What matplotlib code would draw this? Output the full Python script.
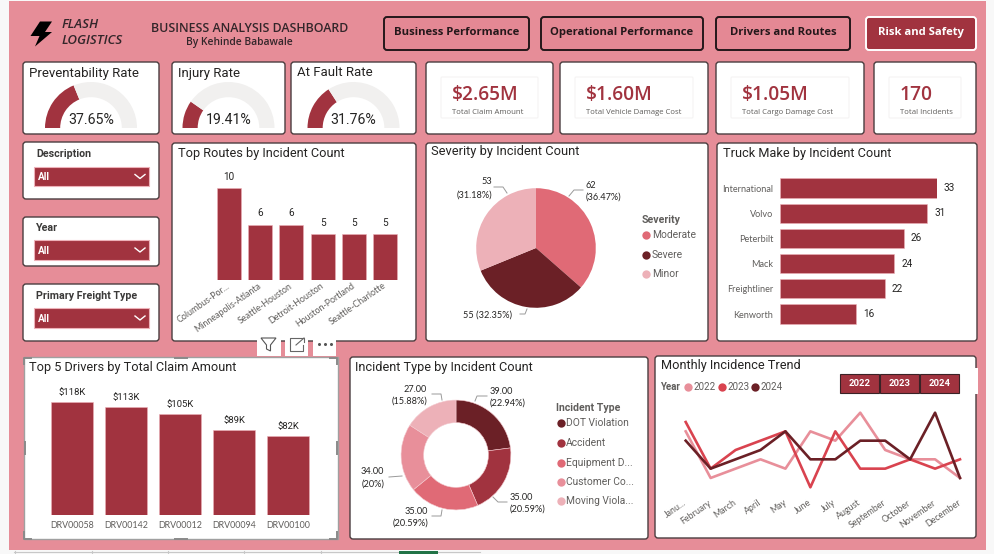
import matplotlib
matplotlib.use('Agg')
import matplotlib.pyplot as plt
from matplotlib.patches import FancyBboxPatch, Rectangle, Polygon

W, H = 995, 554

# data
gauge_names = ['Preventability Rate', 'Injury Rate', 'At Fault Rate']
gauge_values = [37.65, 19.41, 31.76]
kpi_values = ['$2.65M', '$1.60M', '$1.05M', '170']
kpi_labels = ['Total Claim Amount', 'Total Vehicle Damage Cost', 'Total Cargo Damage Cost', 'Total Incidents']
nav_labels = ['Business Performance', 'Operational Performance', 'Drivers and Routes', 'Risk and Safety']
slicer_labels = ['Description', 'Year', 'Primary Freight Type']

routes = ['Columbus-Por...', 'Minneapolis-Atlanta', 'Seattle-Houston', 'Detroit-Houston', 'Houston-Portland', 'Seattle-Charlotte']
route_counts = [10, 6, 6, 5, 5, 5]

severity = ['Moderate', 'Severe', 'Minor']
severity_counts = [62, 55, 53]

makes = ['International', 'Volvo', 'Peterbilt', 'Mack', 'Freightliner', 'Kenworth']
make_counts = [33, 31, 26, 24, 22, 16]

drivers = ['DRV00058', 'DRV00142', 'DRV00012', 'DRV00094', 'DRV00100']
driver_claims = [118, 113, 105, 89, 82]

incident_types = ['DOT Violation', 'Accident', 'Equipment D...', 'Customer Co...', 'Moving Viola...']
incident_counts = [39, 35, 35, 34, 27]

months = ['Janu...', 'February', 'March', 'April', 'May', 'June', 'July', 'August', 'September', 'October', 'November', 'December']
trend_2022 = [7, 2, 3, 4, 3, 7, 6, 9, 5, 4, 4, 2]
trend_2023 = [8, 3, 5, 6, 7, 1, 7, 3, 3, 4, 3, 4]
trend_2024 = [6, 3, 4, 5, 7, 4, 4, 6, 6, 4, 9, 2]
years = ['2022', '2023', '2024']

PINK = '#E68D98'
RED = '#A1333F'
MAROON = '#6B2026'
ROSE = '#E06A76'
LIGHT = '#EDB1B8'
MID = '#E88F9A'
GRAY = '#605E5C'
DARK = '#252423'

TITLE_FONT = 'Roboto'
BODY_FONT = 'Open Sans'
TICK_FONT = 'Lato'

plt.rcParams['font.family'] = BODY_FONT

fig = plt.figure(figsize=(W / 100, H / 100), dpi=100, facecolor='#F8F8F8')


def ax_px(x0, y0, x1, y1, z=2):
    ax = fig.add_axes([x0 / W, 1 - y1 / H, (x1 - x0) / W, (y1 - y0) / H], zorder=z)
    ax.patch.set_alpha(0)
    return ax


def layer(z):
    ax = ax_px(0, 0, W, H, z)
    ax.set_xlim(0, W)
    ax.set_ylim(H, 0)
    ax.axis('off')
    return ax


def box(ax, x0, y0, x1, y1, fc='white', ec='#4A3D3F', lw=1.0, r=3, z=1):
    ax.add_patch(FancyBboxPatch((x0, y0), x1 - x0, y1 - y0, boxstyle='round,pad=0,rounding_size=%s' % r,
                                fc=fc, ec=ec, lw=lw, zorder=z))


def bare(ax):
    for s in ax.spines.values():
        s.set_visible(False)


bg = layer(0)
fg = layer(5)

bg.add_patch(Rectangle((9, 1), 977, 549, fc=PINK, ec='none'))
# sheet tabs at the bottom edge of the screenshot
bg.plot([14, 480], [551.5, 551.5], color='#C8C8C8', lw=0.8)
for x in [15, 92, 168, 244, 321]:
    bg.plot([x, x], [551, 554], color='#C8C8C8', lw=0.8)
bg.add_patch(Rectangle((399, 551), 39, 3, fc='#217346', ec='none', zorder=3))

# header
fg.add_patch(Polygon([(40, 21.5), (52, 21.5), (45, 32), (52, 32), (35, 46.5), (39.5, 36), (30.5, 36)], fc='black', ec='none'))
fg.text(62, 24.5, 'FLASH', fontsize=9.5, style='italic', weight='semibold', color='#33262A', va='center')
fg.text(62, 41, 'LOGISTICS', fontsize=9.5, style='italic', weight='semibold', color='#33262A', va='center')
fg.text(250, 28, 'BUSINESS ANALYSIS DASHBOARD', fontsize=8.9, weight='semibold', color='#33262A', ha='center', va='center')
fg.text(239, 43, 'By Kehinde Babawale', fontsize=7.4, weight='semibold', color='#33262A', ha='center', va='center')

nav_x = [(384, 529), (541, 703), (716, 850), (866, 976)]
for i, (label, (x0, x1)) in enumerate(zip(nav_labels, nav_x)):
    active = i == 3
    box(bg, x0, 17, x1, 50, fc=RED if active else '#E48894', ec='white' if active else '#24171A', lw=1.4)
    fg.text((x0 + x1) / 2, 32.5, label, fontsize=8.15, weight='bold', color='white' if active else '#24171A',
            ha='center', va='center')

# gauges
gauge_panels = [(23, 159, 91), (172, 285, 228.5), (291, 416, 353.5)]
for name, value, (x0, x1, cx) in zip(gauge_names, gauge_values, gauge_panels):
    box(bg, x0, 62, x1, 134)
    fg.text(x0 + 6, 73, name, family=TITLE_FONT, fontsize=9.5, color=DARK, va='center')
    r = 46
    ax = ax_px(cx - r, 128 - r, cx + r, 128 + r)
    ax.pie([value, 100 - value, 100], radius=1, startangle=180, counterclock=False,
           colors=[RED, '#F1F0EF', 'none'], wedgeprops={'width': 0.33})
    ax.set_xlim(-1, 1)
    ax.set_ylim(-1, 1)
    fg.text(cx, 120, '%.2f%%' % value, family=TITLE_FONT, fontsize=10.2, color=DARK, ha='center', va='center')

# kpi cards
kpi_x = [(426, 553), (560, 708), (716, 864), (874, 976)]
for value, label, (x0, x1) in zip(kpi_values, kpi_labels, kpi_x):
    box(bg, x0, 62, x1, 134)
    box(bg, x0 + 15, 77, x1 - 15, 118, ec='#F4F2F2', lw=0.7, r=1, z=2)
    fg.text(x0 + 26, 95, value, fontsize=13.8, weight='semibold', color=RED, va='center')
    fg.text(x0 + 26, 113, label, fontsize=5.6, color=GRAY, va='center')

# slicers
slicer_y = [(142, 199, 154, 167, 186), (217, 266, 228, 240, 260), (284, 341, 296, 308, 328)]
for label, (y0, y1, ty, d0, d1) in zip(slicer_labels, slicer_y):
    box(bg, 23, y0, 159, y1)
    bg.add_patch(Rectangle((33.5, d0), 115, d1 - d0, fc=RED, ec=LIGHT, lw=0.8, zorder=3))
    fg.text(36, ty, label, family=TITLE_FONT, fontsize=7.7, weight='bold', color='#3B3A39', va='center')
    fg.text(37.5, (d0 + d1) / 2 + 0.5, 'All', family=TITLE_FONT, fontsize=7.2, weight='bold', color='white', va='center')
    m = (d0 + d1) / 2
    fg.plot([135, 140, 145], [m - 2, m + 2, m - 2], color='white', lw=1.0)

# top routes
box(bg, 172, 143, 416, 341)
fg.text(178, 153, 'Top Routes by Incident Count', family=TITLE_FONT, fontsize=9.2, color=DARK, va='center')
ax = ax_px(213.5, 188, 400.5, 280)
ax.bar(range(len(routes)), route_counts, width=0.77, color=RED, edgecolor=LIGHT, linewidth=0.4)
ax.set_xlim(-0.5, 5.5)
ax.set_ylim(0, 10)
ax.set_yticks([])
ax.set_xticks(range(len(routes)))
ax.set_xticklabels(routes, rotation=35, ha='right', va='center', rotation_mode='anchor', fontsize=6.4, color=GRAY,
                   family=TICK_FONT)
ax.tick_params(axis='x', length=0, pad=3.6)
bare(ax)
for i, v in enumerate(route_counts):
    ax.annotate(str(v), (i, v), xytext=(0, 6), textcoords='offset points', ha='center', fontsize=7.2, color=DARK,
                family=TITLE_FONT)

# severity pie
box(bg, 426, 143, 708, 341)
fg.text(431, 152, 'Severity by Incident Count', family=TITLE_FONT, fontsize=9.3, color=DARK, va='center')
r = 61
ax = ax_px(536 - r, 248 - r, 536 + r, 248 + r)
sev_colors = [ROSE, MAROON, LIGHT]
ax.pie(severity_counts, radius=1, startangle=90, counterclock=False, colors=sev_colors)
ax.set_xlim(-1.02, 1.02)
ax.set_ylim(-1.02, 1.02)
sev_total = sum(severity_counts)
sev_pct = ['(%.4g%%)' % (v / sev_total * 100) for v in severity_counts]
fg.text(586, 186, str(severity_counts[0]), fontsize=6.6, color=DARK, va='center', family=TICK_FONT)
fg.text(586, 197.5, sev_pct[0], fontsize=6.6, color=DARK, va='center', family=TICK_FONT)
fg.text(492, 182, str(severity_counts[2]), fontsize=6.6, color=DARK, va='center', ha='right', family=TICK_FONT)
fg.text(492, 195, sev_pct[2], fontsize=6.6, color=DARK, va='center', ha='right', family=TICK_FONT)
fg.text(512, 315, '%d %s' % (severity_counts[1], sev_pct[1]), fontsize=6.6, color=DARK, va='center', ha='right',
        family=TICK_FONT)
leaders = [([569, 574, 583], [196, 190, 190]), ([507, 503, 494], [193, 187, 187]), ([520, 525, 527], [314, 314, 309])]
for xs, ys in leaders:
    fg.plot(xs, ys, color='#9A9A9A', lw=0.7)
fg.text(642, 220, 'Severity', family=TITLE_FONT, fontsize=7.6, weight='bold', color=GRAY, va='center')
for name, col, y in zip(severity, sev_colors, [235, 255, 274]):
    fg.plot([646], [y], 'o', ms=6, color=col, mec='none')
    fg.text(652, y, name, family=TITLE_FONT, fontsize=7.4, color=GRAY, va='center')

# truck makes
box(bg, 717, 143, 977, 341)
fg.text(723, 153, 'Truck Make by Incident Count', family=TITLE_FONT, fontsize=9.2, color=DARK, va='center')
ax = ax_px(780, 175.4, 937, 326.6)
ax.barh(range(len(makes)), make_counts, height=0.76, color=RED, edgecolor=LIGHT, linewidth=0.4)
ax.set_xlim(0, 33)
ax.set_ylim(5.5, -0.5)
ax.set_xticks([])
ax.set_yticks(range(len(makes)))
ax.set_yticklabels(makes, fontsize=6.6, color=GRAY, family=TICK_FONT)
ax.tick_params(axis='y', length=0, pad=5)
bare(ax)
for i, v in enumerate(make_counts):
    ax.annotate(str(v), (v, i), xytext=(5, 0), textcoords='offset points', va='center', fontsize=7.2, color=DARK,
                family=TITLE_FONT)

# top drivers, this one is selected in the screenshot
bg.add_patch(Rectangle((23.5, 357), 314, 182, fc='white', ec='#A0A0A0', lw=1.0, zorder=1))
for xs, ys in [([24, 24, 31], [364, 358, 358]), ([330, 337, 337], [358, 358, 364]), ([24, 24, 31], [532, 538.5, 538.5]),
               ([330, 337, 337], [538.5, 538.5, 532]), ([175, 187], [357.5, 357.5]), ([175, 187], [539, 539]),
               ([24.5, 24.5], [442, 454]), ([336.5, 336.5], [442, 454])]:
    fg.plot(xs, ys, color='#8A8A8A', lw=1.4)
fg.text(29, 367, 'Top 5 Drivers by Total Claim Amount', family=TITLE_FONT, fontsize=9.2, color=DARK, va='center')
ax = ax_px(45, 402, 315, 515)
ax.bar(range(len(drivers)), driver_claims, width=0.78, color=RED, edgecolor=LIGHT, linewidth=0.4)
ax.set_xlim(-0.5, 4.5)
ax.set_ylim(0, 118)
ax.set_yticks([])
ax.set_xticks(range(len(drivers)))
ax.set_xticklabels(drivers, fontsize=6.4, color=GRAY, family=TICK_FONT)
ax.tick_params(axis='x', length=0, pad=4)
bare(ax)
for i, v in enumerate(driver_claims):
    ax.annotate('$%dK' % v, (i, v), xytext=(0, 5), textcoords='offset points', ha='center', fontsize=6.8, color=DARK,
                family=TITLE_FONT)

# hover icons over the drivers visual
for x0, x1 in [(257, 281), (285, 308), (313, 336)]:
    fg.add_patch(Rectangle((x0, 337), x1 - x0, 19, fc='white', ec='none'))
fg.add_patch(Polygon([(261, 338), (276, 338), (270.5, 345), (270.5, 351), (266.5, 349), (266.5, 345)], fc='none', ec='#555555', lw=0.8))
fg.plot([298, 290, 290, 303, 303], [337.5, 337.5, 351, 351, 345], color='#666666', lw=0.8)
fg.plot([296, 304], [345, 338], color='#666666', lw=0.8)
fg.plot([299, 304, 304], [338, 338, 342], color='#666666', lw=0.8)
fg.plot([319, 325, 331], [344, 344, 344], ls='none', marker='o', ms=1.2, color='#555555')

# incident type donut
box(bg, 350, 357, 648, 539)
fg.text(355, 367, 'Incident Type by Incident Count', family=TITLE_FONT, fontsize=9.2, color=DARK, va='center')
r = 56
ax = ax_px(456 - r, 455 - r, 456 + r, 455 + r)
inc_colors = [MAROON, RED, ROSE, MID, LIGHT]
ax.pie(incident_counts, radius=1, startangle=90, counterclock=False, colors=inc_colors,
       wedgeprops={'width': 0.41, 'edgecolor': '#F3C9CE', 'linewidth': 0.4})
ax.set_xlim(-1.02, 1.02)
ax.set_ylim(-1.02, 1.02)
inc_total = sum(incident_counts)
inc_pos = [(490, 391, 403, 'left'), (510, 497, 509, 'left'), (428, 511, 523, 'right'), (384, 472, 484, 'right'), (427, 389, 401, 'right')]
for v, (x, y1, y2, ha) in zip(incident_counts, inc_pos):
    fg.text(x, y1, '%.2f' % v, fontsize=6.6, color=DARK, va='center', ha=ha, family=TICK_FONT)
    fg.text(x, y2, '(%.4g%%)' % (v / inc_total * 100), fontsize=6.6, color=DARK, va='center', ha=ha, family=TICK_FONT)
leaders = [([475, 477, 487], [401, 396, 396]), ([442, 441, 432], [400, 394, 394]), ([402, 389], [476, 477]),
           ([493, 498, 507], [497, 502, 502]), ([442, 441, 432], [510, 516, 516])]
for xs, ys in leaders:
    fg.plot(xs, ys, color='#9A9A9A', lw=0.7)
fg.text(556, 408, 'Incident Type', family=TITLE_FONT, fontsize=7.6, weight='bold', color=GRAY, va='center')
for name, col, y in zip(incident_types, inc_colors, [423, 443, 463, 482, 501]):
    fg.plot([561], [y], 'o', ms=6, color=col, mec='none')
    fg.text(566, y, name, family=TITLE_FONT, fontsize=7.4, color=GRAY, va='center')

# monthly trend
box(bg, 655, 356, 976, 538)
bg.add_patch(Rectangle((960, 368), 17.5, 26, fc='white', ec='none', zorder=2))
fg.text(661, 366, 'Monthly Incidence Trend', family=TITLE_FONT, fontsize=9.2, color=DARK, va='center')
fg.text(660, 387, 'Year', family=TITLE_FONT, fontsize=7, weight='bold', color=GRAY, va='center')
year_colors = [MID, '#D9434F', MAROON]
for name, col, mx in zip(years, year_colors, [688, 722, 755]):
    fg.plot([mx], [387], 'o', ms=6, color=col, mec='none')
    fg.text(mx + 5.5, 387, name, family=TITLE_FONT, fontsize=7, color=GRAY, va='center')
for name, x0 in zip(years, [840, 880, 920]):
    fg.add_patch(Rectangle((x0, 373.5), 39, 19.5, fc=RED, ec='#3A2226', lw=0.8))
    fg.text(x0 + 19.5, 383.5, name, family=TITLE_FONT, fontsize=6.8, weight='bold', color='white', ha='center', va='center')
ax = ax_px(685.7, 412.7, 960, 487.3)
for series, col in zip([trend_2022, trend_2023, trend_2024], year_colors):
    ax.plot(range(len(months)), series, color=col, lw=1.9, clip_on=False)
ax.set_xlim(0, 11)
ax.set_ylim(1, 9)
ax.set_yticks([])
ax.set_xticks(range(len(months)))
ax.set_xticklabels(months, rotation=35, ha='right', va='center', rotation_mode='anchor', fontsize=6.4, color=GRAY,
                   family=TICK_FONT)
ax.tick_params(axis='x', length=0, pad=10.5)
bare(ax)

fig.savefig('out.png', dpi=100, facecolor=fig.get_facecolor())
